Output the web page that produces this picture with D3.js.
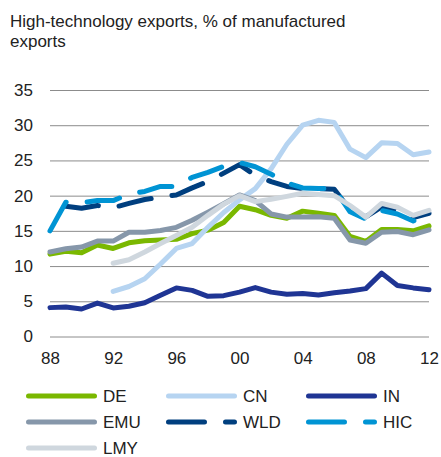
<!DOCTYPE html>
<html>
<head>
<meta charset="utf-8">
<script src="https://cdn.jsdelivr.net/npm/d3@7"></script>
<style>
  html, body { margin: 0; padding: 0; background: #fff; }
  svg { display: block; font-family: "Liberation Sans", Arial, sans-serif; }
</style>
</head>
<body>
<div id="chart"></div>
<script>
// years 1988..2012
const years = d3.range(1988, 2013);
const yTicks = [0, 5, 10, 15, 20, 25, 30, 35];
const xTicks = [1988, 1992, 1996, 2000, 2004, 2008, 2012];
const xTickLabels = ['88', '92', '96', '00', '04', '08', '12'];

// values per year, null = no data
const DE = [11.7, 12.1, 11.9, 13.0, 12.5, 13.3, 13.6, 13.7, 13.8, 14.6, 15.1, 16.2, 18.5, 18.0, 17.2, 16.8, 17.8, 17.5, 17.2, 14.2, 13.5, 15.2, 15.2, 15.0, 15.7];
const CN = [null, null, null, null, 6.4, 7.1, 8.2, 10.3, 12.5, 13.2, 15.5, 17.6, 19.4, 21.0, 23.8, 27.3, 30.0, 30.7, 30.4, 26.6, 25.4, 27.5, 27.4, 25.8, 26.2];
const IN = [4.1, 4.2, 3.9, 4.75, 4.05, 4.3, 4.8, 5.85, 6.9, 6.55, 5.7, 5.8, 6.3, 6.95, 6.3, 6.0, 6.1, 5.9, 6.2, 6.45, 6.8, 9.0, 7.25, 6.9, 6.65];
const EMU = [12.0, 12.45, 12.7, 13.55, 13.55, 14.8, 14.8, 15.05, 15.5, 16.5, 17.65, 18.85, 20.1, 19.3, 17.4, 16.95, 16.95, 17.0, 16.8, 13.7, 13.25, 14.8, 14.9, 14.45, 15.15];
const WLD = [null, 18.5, 18.2, 18.6, 18.3, 18.9, 19.45, 19.8, 20.1, 21.1, 22.0, 23.2, 24.4, 22.9, 22.0, 21.3, 21.0, 21.0, 20.9, 18.0, 17.0, 18.4, 18.0, 16.9, 17.5];
const HIC = [15.0, 19.05, 19.0, 19.3, 19.3, 20.2, 20.6, 21.3, 21.3, 22.6, 23.3, 24.15, 24.7, 24.1, 23.05, 21.8, 21.1, 21.0, 21.0, 17.7, 16.7, 17.9, 17.4, 16.4, 17.3];
const LMY = [null, null, null, null, 10.4, 10.9, 12.0, 13.2, 14.35, 15.5, 17.2, 18.8, 20.0, 19.15, 19.5, 19.9, 20.35, 20.15, 20.0, 18.6, 16.95, 18.9, 18.35, 17.2, 17.9];

const seriesNames = ['DE', 'CN', 'IN', 'EMU', 'WLD', 'HIC', 'LMY'];
const seriesValues = [DE, CN, IN, EMU, WLD, HIC, LMY];
const seriesColors = ['#7ab800', '#b6d4f1', '#1f3594', '#8697aa', '#003f7f', '#0094d4', '#cfd7de'];
const seriesDashed = [false, false, false, false, true, true, false];

const width = 441, height = 457;
const margin = { top: 90, right: 12, bottom: 120.5, left: 50 };
const innerW = width - margin.left - margin.right;
const innerH = height - margin.top - margin.bottom;

const svg = d3.select('#chart').append('svg')
  .attr('width', width)
  .attr('height', height);

// title
const title = svg.append('text')
  .attr('x', 10)
  .attr('y', 26.5)
  .attr('font-size', 17)
  .attr('fill', '#222');
title.append('tspan').attr('x', 10).text('High-technology exports, % of manufactured');
title.append('tspan').attr('x', 10).attr('dy', 20).text('exports');

const g = svg.append('g')
  .attr('transform', 'translate(' + margin.left + ',' + margin.top + ')');

const x = d3.scaleLinear().domain([1988, 2012]).range([0, innerW]);
const y = d3.scaleLinear().domain([0, 35]).range([innerH, 0]);

// y axis with gridlines
const yAxis = g.append('g')
  .call(d3.axisLeft(y).tickValues(yTicks).tickSize(-innerW).tickPadding(17));
yAxis.select('.domain').remove();
yAxis.selectAll('.tick line').attr('stroke', '#8c8c8c').attr('stroke-width', 1);
yAxis.selectAll('.tick text')
  .attr('font-size', 17)
  .attr('fill', '#222')
  .attr('font-family', '"Liberation Sans", Arial, sans-serif');

// x axis, labels only
const xAxis = g.append('g')
  .attr('transform', 'translate(0,' + innerH + ')')
  .call(d3.axisBottom(x).tickValues(xTicks).tickSize(0).tickPadding(15)
    .tickFormat((d, i) => xTickLabels[i]));
xAxis.select('.domain').remove();
xAxis.selectAll('.tick text')
  .attr('font-size', 17)
  .attr('fill', '#222')
  .attr('font-family', '"Liberation Sans", Arial, sans-serif');

// lines
const line = d3.line()
  .defined((d) => d.v !== null)
  .x((d) => x(d.year))
  .y((d) => y(d.v));

seriesNames.forEach((name, i) => {
  const data = years.map((yr, j) => ({ year: yr, v: seriesValues[i][j] }));
  g.append('path')
    .datum(data)
    .attr('fill', 'none')
    .attr('stroke', seriesColors[i])
    .attr('stroke-width', 5)
    .attr('stroke-linejoin', 'round')
    .attr('stroke-linecap', 'round')
    .attr('stroke-dasharray', seriesDashed[i] ? '33,21' : null)
    .attr('d', line);
});

// legend
const legend = svg.append('g');
seriesNames.forEach((name, i) => {
  const col = i % 3, row = Math.floor(i / 3);
  const lx = 26 + col * 140, ly = 396 + row * 26;
  legend.append('line')
    .attr('x1', lx + 2.5).attr('x2', lx + 68.5)
    .attr('y1', ly).attr('y2', ly)
    .attr('stroke', seriesColors[i])
    .attr('stroke-width', 5)
    .attr('stroke-linecap', 'round')
    .attr('stroke-dasharray', seriesDashed[i] ? '36,21' : null);
  legend.append('text')
    .attr('x', lx + 77)
    .attr('y', ly + 6)
    .attr('font-size', 17)
    .attr('fill', '#222')
    .text(name);
});
</script>
</body>
</html>
